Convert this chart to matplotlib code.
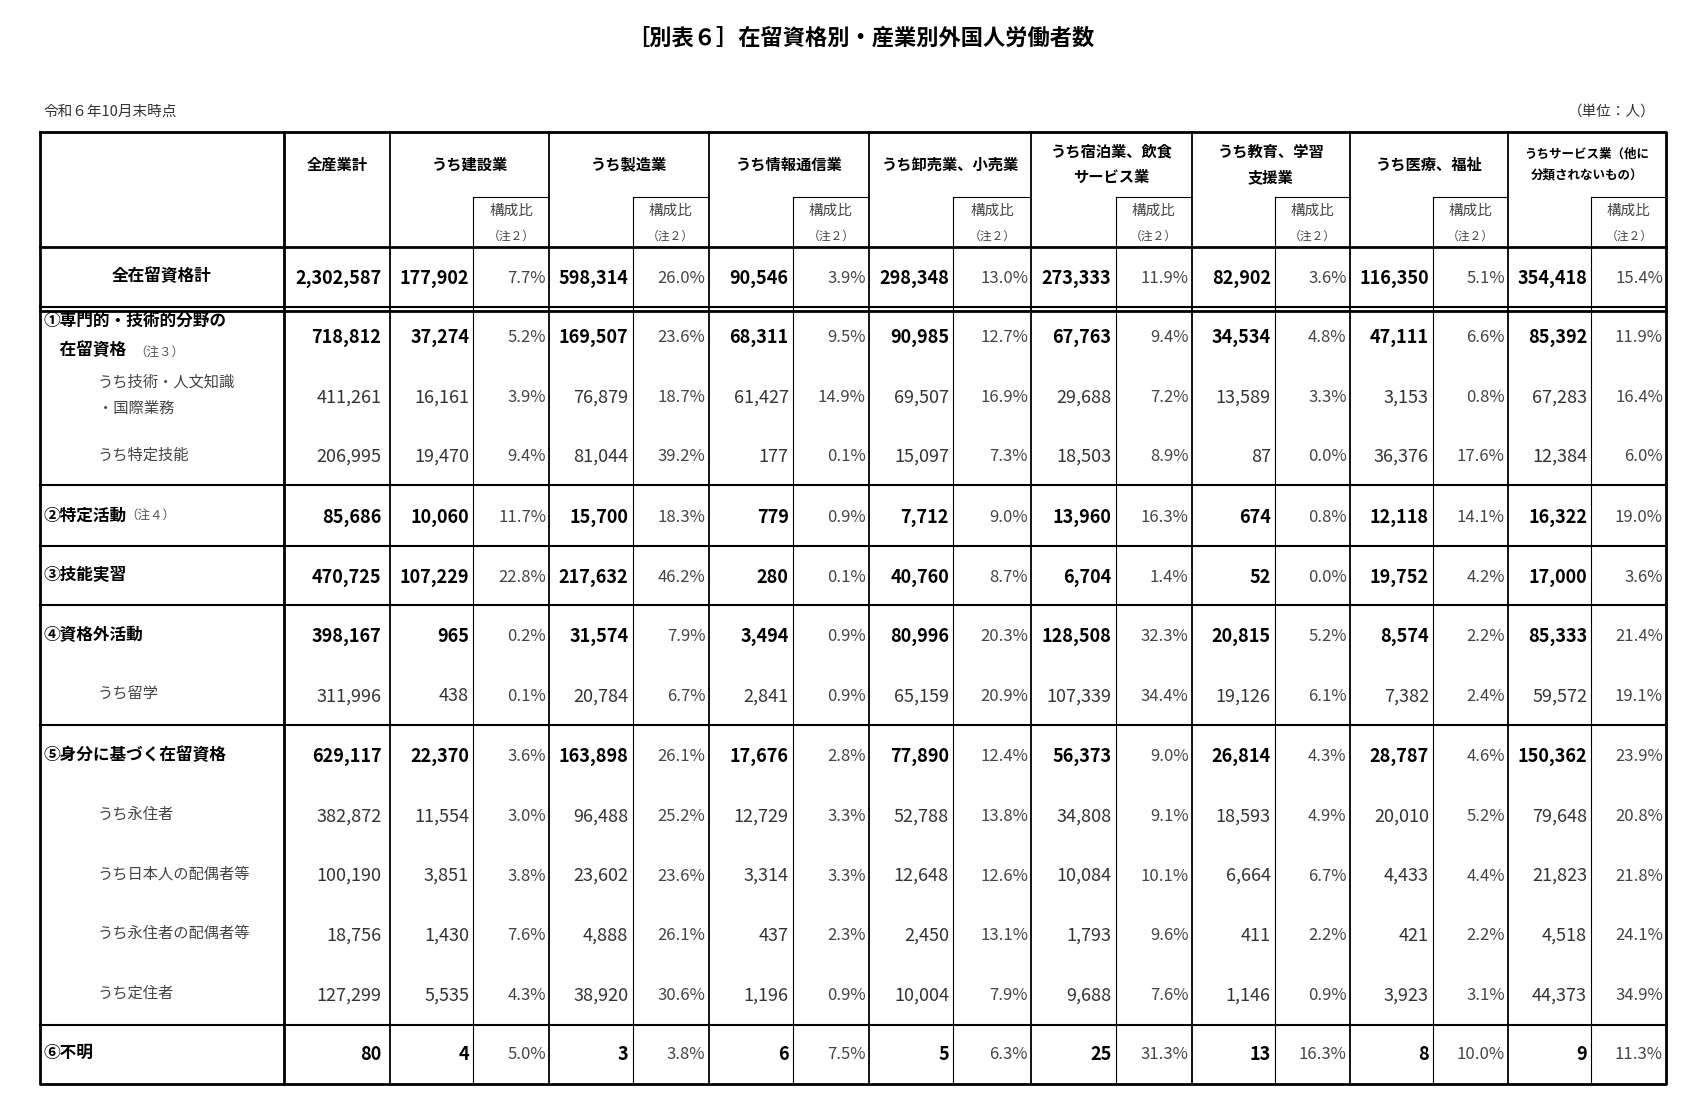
import matplotlib.pyplot as plt

plt.rcParams["font.family"] = ["Noto Sans CJK JP", "DejaVu Sans"]

TITLE = "［別表６］在留資格別・産業別外国人労働者数"
industries = [
    "うち建設業", "うち製造業", "うち情報通信業", "うち卸売業、小売業",
    "うち宿泊業、飲食\nサービス業", "うち教育、学習\n支援業", "うち医療、福祉",
    "うちサービス業（他に\n分類されないもの）",
]
row_labels = [
    "全在留資格計", "①専門的・技術的分野の\n　在留資格", "うち技術・人文知識\n・国際業務", "うち特定技能",
    "②特定活動", "③技能実習", "④資格外活動", "うち留学",
    "⑤身分に基づく在留資格", "うち永住者", "うち日本人の配偶者等", "うち永住者の配偶者等",
    "うち定住者", "⑥不明",
]
totals = [2302587, 718812, 411261, 206995, 85686, 470725, 398167, 311996,
          629117, 382872, 100190, 18756, 127299, 80]
counts = [
    [177902, 598314, 90546, 298348, 273333, 82902, 116350, 354418],
    [37274, 169507, 68311, 90985, 67763, 34534, 47111, 85392],
    [16161, 76879, 61427, 69507, 29688, 13589, 3153, 67283],
    [19470, 81044, 177, 15097, 18503, 87, 36376, 12384],
    [10060, 15700, 779, 7712, 13960, 674, 12118, 16322],
    [107229, 217632, 280, 40760, 6704, 52, 19752, 17000],
    [965, 31574, 3494, 80996, 128508, 20815, 8574, 85333],
    [438, 20784, 2841, 65159, 107339, 19126, 7382, 59572],
    [22370, 163898, 17676, 77890, 56373, 26814, 28787, 150362],
    [11554, 96488, 12729, 52788, 34808, 18593, 20010, 79648],
    [3851, 23602, 3314, 12648, 10084, 6664, 4433, 21823],
    [1430, 4888, 437, 2450, 1793, 411, 421, 4518],
    [5535, 38920, 1196, 10004, 9688, 1146, 3923, 44373],
    [4, 3, 6, 5, 25, 13, 8, 9],
]
shares = [
    [7.7, 26.0, 3.9, 13.0, 11.9, 3.6, 5.1, 15.4],
    [5.2, 23.6, 9.5, 12.7, 9.4, 4.8, 6.6, 11.9],
    [3.9, 18.7, 14.9, 16.9, 7.2, 3.3, 0.8, 16.4],
    [9.4, 39.2, 0.1, 7.3, 8.9, 0.0, 17.6, 6.0],
    [11.7, 18.3, 0.9, 9.0, 16.3, 0.8, 14.1, 19.0],
    [22.8, 46.2, 0.1, 8.7, 1.4, 0.0, 4.2, 3.6],
    [0.2, 7.9, 0.9, 20.3, 32.3, 5.2, 2.2, 21.4],
    [0.1, 6.7, 0.9, 20.9, 34.4, 6.1, 2.4, 19.1],
    [3.6, 26.1, 2.8, 12.4, 9.0, 4.3, 4.6, 23.9],
    [3.0, 25.2, 3.3, 13.8, 9.1, 4.9, 5.2, 20.8],
    [3.8, 23.6, 3.3, 12.6, 10.1, 6.7, 4.4, 21.8],
    [7.6, 26.1, 2.3, 13.1, 9.6, 2.2, 2.2, 24.1],
    [4.3, 30.6, 0.9, 7.9, 7.6, 0.9, 3.1, 34.9],
    [5.0, 3.8, 7.5, 6.3, 31.3, 16.3, 10.0, 11.3],
]
bold_rows = {0, 1, 4, 5, 6, 8, 13}
notes = {1: "（注３）", 4: "（注４）"}

# layout in reference pixel units (1560 x 1023 grid)
W, H = 1560, 1023
col_x = [37, 262, 360, 437, 507, 584, 654, 732, 802, 880, 952, 1030, 1100, 1177, 1246, 1323, 1392, 1469, 1538]
row_y = [255, 310, 365, 420, 476, 531, 586, 641, 697, 752, 807, 862, 917, 972]
group_bottoms = [283, 448, 504, 559, 669, 946, 1001]

fig = plt.figure(figsize=(16.9, 11.08), dpi=100)
ax = fig.add_axes([0, 0, 1, 1])
ax.set_xlim(0, W)
ax.set_ylim(H, 0)
ax.axis("off")

ax.text(W / 2 + 15, 35, TITLE, ha="center", va="center", fontsize=16, fontweight="bold")
ax.text(40, 103, "令和６年10月末時点", ha="left", va="center", fontsize=10.5, color="#333333")
ax.text(1528, 103, "（単位：人）", ha="right", va="center", fontsize=10.5, color="#333333")

top, bot = 122, 1001
# outer border
ax.plot([col_x[0], col_x[-1], col_x[-1], col_x[0], col_x[0]], [top, top, bot, bot, top], color="black", lw=2)
# vertical lines
for i, x in enumerate(col_x[1:-1], start=1):
    if i == 1:
        ax.plot([x, x], [top, bot], color="black", lw=2)
    elif i % 2 == 0:
        ax.plot([x, x], [top, bot], color="black", lw=1.3)
    else:
        ax.plot([x, x], [182, bot], color="black", lw=0.8)
# sub header boxes
for i in range(3, len(col_x) - 1, 2):
    ax.plot([col_x[i], col_x[i + 1]], [182, 182], color="black", lw=0.8)
    xm = (col_x[i] + col_x[i + 1]) / 2
    ax.text(xm, 195, "構成比", ha="center", va="center", fontsize=10.5, color="#444444")
    ax.text(xm, 218, "（注２）", ha="center", va="center", fontsize=8.5, color="#444444")
# header lines
ax.plot([col_x[0], col_x[-1]], [228, 228], color="black", lw=2)
ax.plot([col_x[0], col_x[-1]], [287, 287], color="black", lw=2)
for y in group_bottoms[:-1]:
    ax.plot([col_x[0], col_x[-1]], [y, y], color="black", lw=1.5)

# header texts
ax.text((col_x[1] + col_x[2]) / 2, 152, "全産業計", ha="center", va="center", fontsize=11, fontweight="bold")
for j, name in enumerate(industries):
    xm = (col_x[2 + 2 * j] + col_x[4 + 2 * j]) / 2
    fs = 9 if j == 7 else 11
    ax.text(xm, 152, name, ha="center", va="center", fontsize=fs, fontweight="bold", linespacing=1.7)

# body
for r, label in enumerate(row_labels):
    y = row_y[r]
    bold = r in bold_rows
    fw = "bold" if bold else "normal"
    col = "black" if bold else "#333333"
    if r == 0:
        ax.text((col_x[0] + col_x[1]) / 2, y, label, ha="center", va="center", fontsize=12, fontweight="bold")
    elif bold:
        ax.text(40, y, label, ha="left", va="center", fontsize=12, fontweight="bold", linespacing=1.8)
        if r == 1:
            ax.text(124, y + 15, notes[r], ha="left", va="center", fontsize=9, color="#555555")
        elif r in notes:
            ax.text(116, y, notes[r], ha="left", va="center", fontsize=9, color="#555555")
    else:
        ax.text(90, y, label, ha="left", va="center", fontsize=11,
                color="#444444", linespacing=1.7)
    ax.text(col_x[2] - 8, y, f"{totals[r]:,}", ha="right", va="center_baseline", fontsize=13,
            fontweight=fw, color=col)
    for j in range(8):
        ax.text(col_x[3 + 2 * j] - 4, y, f"{counts[r][j]:,}", ha="right", va="center_baseline",
                fontsize=13, fontweight=fw, color=col)
        ax.text(col_x[4 + 2 * j] - 3, y, f"{shares[r][j]:.1f}%", ha="right", va="center_baseline",
                fontsize=12, color="#444444")

fig.savefig("out.png", dpi=100)
